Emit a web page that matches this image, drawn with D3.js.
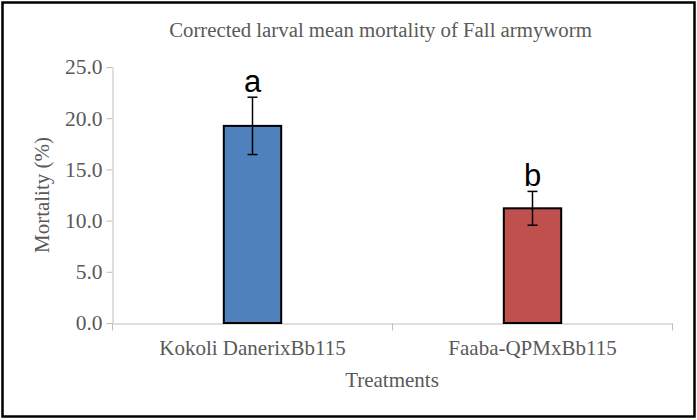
<!DOCTYPE html>
<html><head><meta charset="utf-8">
<script src="https://cdn.jsdelivr.net/npm/d3@7"></script>
<style>body{margin:0;background:#fff}svg{display:block}</style>
</head><body>
<svg id="c" width="697" height="420"></svg>
<script>
const categories = ["Kokoli DanerixBb115", "Faaba-QPMxBb115"];
const means = [19.25, 11.2];
const errors = [2.8, 1.65];
const letters = ["a", "b"];
const colors = ["#4f81bd", "#c0504d"];
const yTicks = [0, 5, 10, 15, 20, 25];

const svg = d3.select("#c");
const serif = "'Liberation Serif','Times New Roman',serif";
const gray = "#595959";

svg.append("rect").attr("x", 2.5).attr("y", 2.5).attr("width", 692).attr("height", 414)
  .attr("fill", "#fff").attr("stroke", "#000").attr("stroke-width", 2.5);

const x = d3.scaleBand().domain(categories).range([112.5, 672.5]).padding(0);
const y = d3.scaleLinear().domain([0, 25]).range([323, 67]);

// y axis
const ya = svg.append("g").attr("transform", "translate(112.5,0)")
  .call(d3.axisLeft(y).tickValues(yTicks).tickFormat(d3.format(".1f")).tickSize(6).tickSizeOuter(0));
ya.select(".domain").attr("stroke", "#bfbfbf");
ya.selectAll(".tick line").attr("stroke", "#bfbfbf");
ya.selectAll(".tick text").attr("fill", gray).attr("font-family", serif).attr("font-size", 21.5).attr("x", -10);

// x axis
const xa = svg.append("g").attr("transform", "translate(0,323.5)")
  .call(d3.axisBottom(x).tickSize(0).tickSizeOuter(0));
xa.select(".domain").attr("stroke", "#bfbfbf");
xa.selectAll(".tick text").attr("fill", gray).attr("font-family", serif).attr("font-size", 21).attr("dy", 0).attr("y", 31);
// category boundary ticks
const bounds = [x.range()[0], x(categories[1]), x.range()[1]];
xa.selectAll(".bt").data(bounds).join("line").attr("class", "bt")
  .attr("x1", d => d).attr("x2", d => d).attr("y1", 0).attr("y2", 7).attr("stroke", "#bfbfbf");

// bars
const bw = x.bandwidth() * 0.205;
const data = categories.map((c, i) => ({c, m: means[i], e: errors[i], l: letters[i], col: colors[i]}));
svg.selectAll(".bar").data(data).join("rect").attr("class", "bar")
  .attr("x", d => x(d.c) + x.bandwidth() / 2 - bw / 2)
  .attr("y", d => y(d.m)).attr("width", bw).attr("height", d => y(0) - y(d.m))
  .attr("fill", d => d.col).attr("stroke", "#000").attr("stroke-width", 2);

// error bars
const eg = svg.selectAll(".err").data(data).join("g").attr("class", "err")
  .attr("transform", d => `translate(${x(d.c) + x.bandwidth() / 2},0)`);
eg.append("line").attr("y1", d => y(d.m + d.e)).attr("y2", d => y(d.m - d.e)).attr("stroke", "#000").attr("stroke-width", 1.5);
eg.append("line").attr("x1", -5).attr("x2", 5).attr("y1", d => y(d.m + d.e)).attr("y2", d => y(d.m + d.e)).attr("stroke", "#000").attr("stroke-width", 1.5);
eg.append("line").attr("x1", -5).attr("x2", 5).attr("y1", d => y(d.m - d.e)).attr("y2", d => y(d.m - d.e)).attr("stroke", "#000").attr("stroke-width", 1.5);
eg.append("text").attr("y", d => y(d.m + d.e) - 5).attr("text-anchor", "middle")
  .attr("font-family", "'Liberation Sans',Arial,sans-serif").attr("font-size", 31).attr("fill", "#000")
  .text(d => d.l);

// title & axis titles
svg.append("text").attr("x", 380.5).attr("y", 37).attr("text-anchor", "middle")
  .attr("font-family", serif).attr("font-size", 20.8).attr("fill", gray)
  .text("Corrected larval mean mortality of Fall armyworm");
svg.append("text").attr("x", 392).attr("y", 387).attr("text-anchor", "middle")
  .attr("font-family", serif).attr("font-size", 21).attr("fill", gray).text("Treatments");
svg.append("text").attr("transform", "translate(49,195) rotate(-90)").attr("text-anchor", "middle")
  .attr("font-family", serif).attr("font-size", 21).attr("fill", gray).text("Mortality (%)");
</script>
</body></html>
